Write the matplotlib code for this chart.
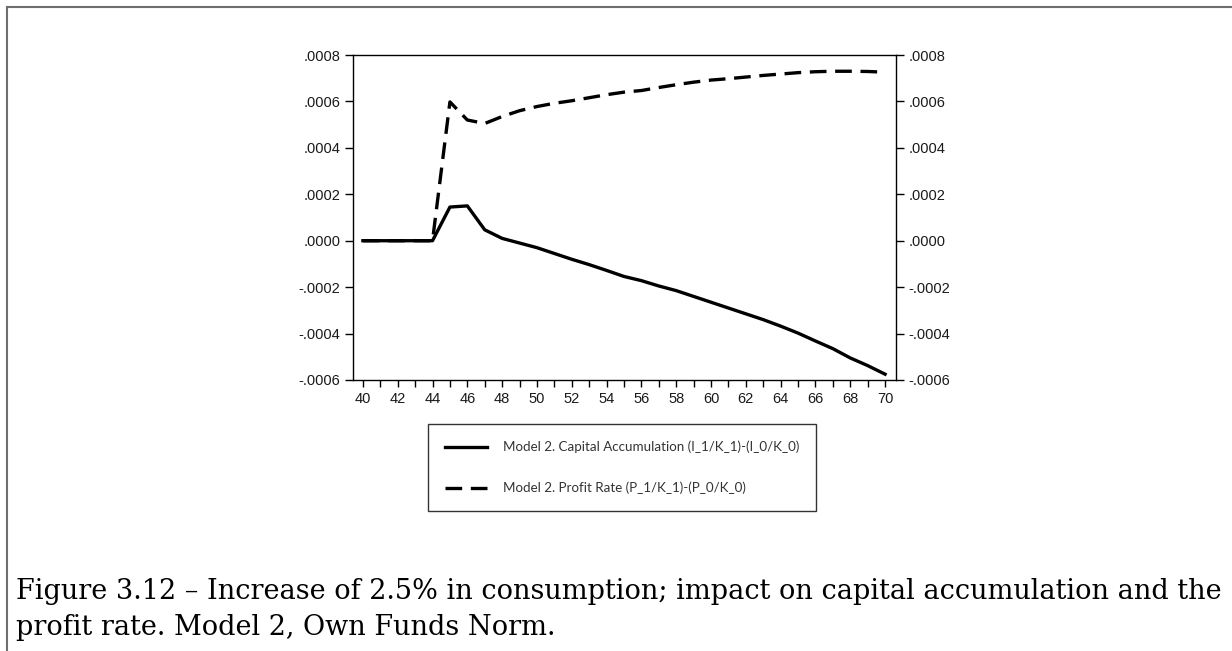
import numpy as np
import matplotlib.pyplot as plt
from matplotlib.ticker import FuncFormatter, MultipleLocator
from matplotlib.lines import Line2D

# periods
years = list(range(40, 71))

# capital accumulation (I_1/K_1)-(I_0/K_0)
accum = [0, 0, 0, 0, 0,
         0.000145, 0.000150, 0.000047, 0.000010, -0.000010,
         -0.000030, -0.000055, -0.000080, -0.000103, -0.000128,
         -0.000154, -0.000172, -0.000195, -0.000215, -0.000240,
         -0.000265, -0.000290, -0.000315, -0.000340, -0.000368,
         -0.000398, -0.000432, -0.000465, -0.000505, -0.000538,
         -0.000575]

# profit rate (P_1/K_1)-(P_0/K_0)
profit = [0, 0, 0, 0, 0,
          0.000598, 0.000520, 0.000505, 0.000535, 0.000560,
          0.000578, 0.000592, 0.000603, 0.000616, 0.000629,
          0.000640, 0.000647, 0.000660, 0.000672, 0.000683,
          0.000692, 0.000698, 0.000705, 0.000712, 0.000718,
          0.000724, 0.000728, 0.000730, 0.000730, 0.000729,
          0.000726]

y_ticks = [-0.0006, -0.0004, -0.0002, 0.0, 0.0002, 0.0004, 0.0006, 0.0008]

legend_labels = ["Model 2. Capital Accumulation (I_1/K_1)-(I_0/K_0)",
                 "Model 2. Profit Rate (P_1/K_1)-(P_0/K_0)"]
caption = ("Figure 3.12 \u2013 Increase of 2.5% in consumption; impact on capital accumulation and the\n"
           "profit rate. Model 2, Own Funds Norm.")


def fmt(v, pos):
    s = "%.4f" % v
    if s.startswith("-0"):
        s = "-" + s[2:]
    elif s.startswith("0"):
        s = s[1:]
    return s


fig = plt.figure(figsize=(12.32, 6.51), dpi=100)

# outer grey frame (left + top)
fig.add_artist(Line2D([0.0055, 0.0055], [0, 0.9885], color="#6e6e6e", lw=1.5,
                      transform=fig.transFigure))
fig.add_artist(Line2D([0.0055, 1.0], [0.9885, 0.9885], color="#6e6e6e", lw=1.5,
                      transform=fig.transFigure))

ax = fig.add_axes([0.2865, 0.4163, 0.4408, 0.4992])
ax.plot(years, accum, color="black", lw=2.4, solid_joinstyle="round")
ax.plot(years, profit, color="black", lw=2.4, ls=(0, (5, 2.6)))

ax.set_xlim(39.43, 70.63)
ax.set_ylim(-0.0006, 0.0008)
ax.set_yticks(y_ticks)
ax.xaxis.set_major_locator(MultipleLocator(2))
ax.xaxis.set_minor_locator(MultipleLocator(1))
ax.yaxis.set_major_formatter(FuncFormatter(fmt))
ax.tick_params(axis="both", which="both", direction="out", labelsize=10.5,
               labelcolor="#1a1a1a", width=1)
ax.tick_params(axis="x", which="both", length=5, pad=4)
ax.tick_params(axis="y", length=6, right=True, labelright=True, pad=3)
for sp in ax.spines.values():
    sp.set_linewidth(1)
for lab in ax.get_xticklabels() + ax.get_yticklabels():
    lab.set_fontfamily("Liberation Sans")

# legend box below chart
handles = [Line2D([], [], color="black", lw=2.4),
           Line2D([], [], color="black", lw=2.4, ls=(0, (5, 2.6)))]
leg = fig.legend(handles, legend_labels, loc="upper left",
                 bbox_to_anchor=(428 / 1232, 1 - 424 / 651),
                 frameon=True, fancybox=False, edgecolor="black",
                 prop={"family": "Lato", "size": 9.6},
                 handlelength=3.2, handletextpad=1.15, labelspacing=2.15,
                 borderpad=1.25, borderaxespad=0)
leg.get_frame().set_linewidth(1)
for t in leg.get_texts():
    t.set_color("#333333")

fig.text(16 / 1232, 1 - 635 / 651, caption, fontsize=19.5,
         family="DejaVu Serif", va="baseline", ha="left", linespacing=1.45)

fig.savefig("out.png", dpi=100)
